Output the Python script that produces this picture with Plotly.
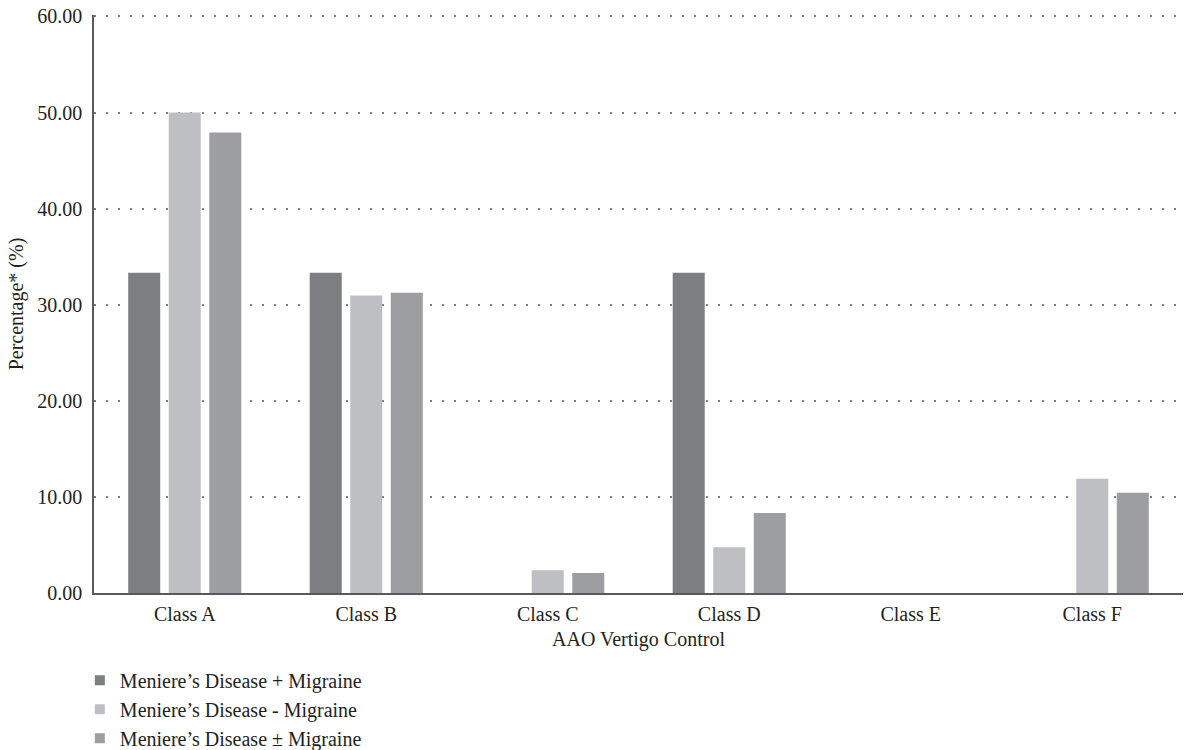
import plotly.graph_objects as go

categories = ["Class A", "Class B", "Class C", "Class D", "Class E", "Class F"]
series_names = ["Meniere’s Disease + Migraine", "Meniere’s Disease - Migraine", "Meniere’s Disease ± Migraine"]
md_plus_migraine = [33.33, 33.33, 0.0, 33.33, 0.0, 0.0]
md_minus_migraine = [50.00, 30.95, 2.38, 4.76, 0.0, 11.90]
md_pm_migraine = [47.92, 31.25, 2.08, 8.33, 0.0, 10.42]
colors = ["#7d7e82", "#bebfc3", "#9d9ea2"]
y_ticks = [0, 10, 20, 30, 40, 50, 60]
y_tick_labels = ["0.00", "10.00", "20.00", "30.00", "40.00", "50.00", "60.00"]

font_family = "Liberation Serif"
text_color = "#231f20"
fs = 20

fig = go.Figure()
for name, vals, col in zip(series_names, [md_plus_migraine, md_minus_migraine, md_pm_migraine], colors):
    fig.add_trace(go.Bar(x=categories, y=vals, name=name, showlegend=False,
                         marker=dict(color=col, line=dict(width=0))))
# legend entries with small square swatches
for name, col in zip(series_names, colors):
    fig.add_trace(go.Scatter(x=[None], y=[None], mode="markers", name=name,
                             marker=dict(symbol="square", size=10, color=col)))

fig.update_layout(
    width=1191, height=750,
    margin=dict(l=94, r=8, t=15, b=157, autoexpand=False),
    paper_bgcolor="white", plot_bgcolor="white",
    barmode="group", bargap=0.33, bargroupgap=0.21,
    font=dict(family=font_family, size=fs, color=text_color),
    showlegend=True,
    legend=dict(orientation="v", x=-0.013, xanchor="left", y=-0.117, yanchor="top",
                font=dict(family=font_family, size=fs, color=text_color),
                itemwidth=30, tracegroupgap=0, bgcolor="rgba(0,0,0,0)"),
    xaxis=dict(title=dict(text="AAO Vertigo Control", standoff=8, font=dict(size=fs)),
               showline=True, linecolor="#58595b", linewidth=2, ticks="",
               showgrid=False, tickfont=dict(size=fs), automargin=False,
               ticklabelstandoff=2),
    yaxis=dict(title=dict(text="Percentage* (%)", standoff=8, font=dict(size=fs)),
               range=[0, 60.15], tickvals=y_ticks, ticktext=y_tick_labels,
               showline=True, linecolor="#58595b", linewidth=1.5, ticks="",
               showgrid=True, gridcolor="#7a7b7e", gridwidth=1.6, griddash="1.6px,10.4px",
               zeroline=False, tickfont=dict(size=fs), automargin=False,
               ticklabelstandoff=6, ticklabeloverflow="allow"),
)

fig.write_html("out.html", config={"displayModeBar": False},
               post_script="document.body.style.margin='0';")
